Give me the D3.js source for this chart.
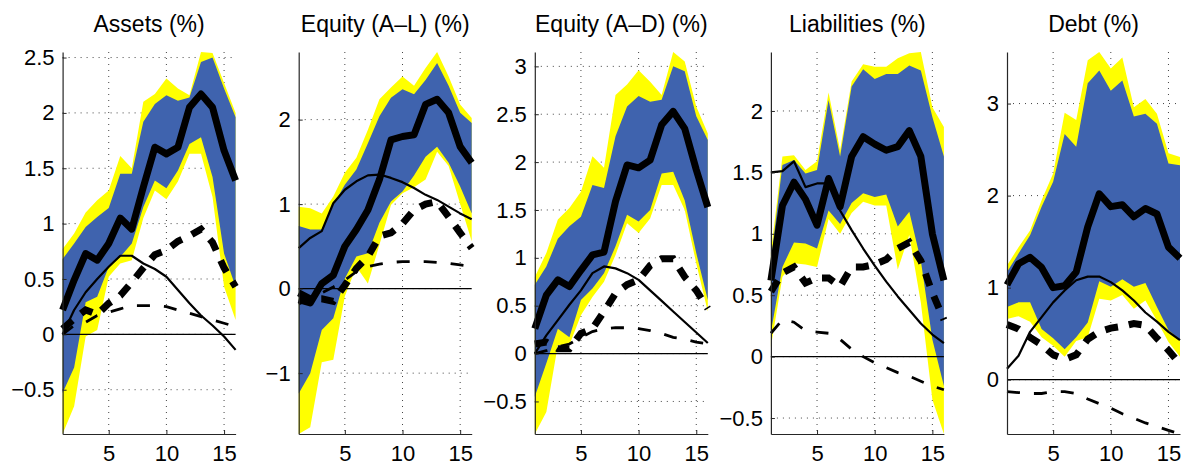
<!DOCTYPE html>
<html>
<head>
<meta charset="utf-8">
<script src="https://cdn.jsdelivr.net/npm/d3@7"></script>
<style>
  html, body { margin: 0; padding: 0; background: #fff; }
  svg { display: block; font-family: "Liberation Sans", Arial, Helvetica, sans-serif; }
</style>
</head>
<body>
<svg id="chart" width="1183" height="466"></svg>
<script>
// Impulse responses over horizons 1..16: 68% (inner) and 90% (outer) bands,
// median response and three model-implied responses.
const horizons = [1, 2, 3, 4, 5, 6, 7, 8, 9, 10, 11, 12, 13, 14, 15, 16];
const horizonTicks = [5, 10, 15];
const panelTitles = ["Assets (%)", "Equity (A\u2013L) (%)", "Equity (A\u2013D) (%)", "Liabilities (%)", "Debt (%)"];

// Assets
const assetsOuterHi = [0.77, 0.91, 1.10, 1.21, 1.30, 1.61, 1.50, 2.10, 2.17, 2.31, 2.22, 2.16, 2.55, 2.54, 2.27, 2.00];
const assetsInnerHi = [0.68, 0.82, 0.97, 1.06, 1.14, 1.45, 1.45, 1.92, 2.08, 2.16, 2.11, 2.14, 2.46, 2.50, 2.22, 1.96];
const assetsInnerLo = [-0.53, -0.30, 0.29, 0.34, 0.61, 0.70, 0.82, 1.15, 1.39, 1.32, 1.48, 1.72, 1.78, 1.42, 0.73, 0.43];
const assetsOuterLo = [-0.90, -0.65, -0.02, 0.04, 0.52, 0.64, 0.67, 1.05, 1.30, 1.22, 1.38, 1.63, 1.63, 1.24, 0.43, 0.13];
const assetsMedian  = [0.22, 0.49, 0.73, 0.67, 0.82, 1.05, 0.95, 1.33, 1.69, 1.63, 1.69, 2.05, 2.17, 2.05, 1.66, 1.39];
const assetsModelA  = [0.05, 0.14, 0.22, 0.18, 0.28, 0.35, 0.47, 0.60, 0.72, 0.76, 0.84, 0.89, 0.95, 0.83, 0.60, 0.43];
const assetsModelB  = [0.00, 0.22, 0.38, 0.50, 0.61, 0.71, 0.71, 0.64, 0.59, 0.52, 0.40, 0.28, 0.17, 0.08, -0.02, -0.14];
const assetsModelC  = [0.00, 0.08, 0.11, 0.17, 0.20, 0.23, 0.26, 0.26, 0.26, 0.25, 0.22, 0.19, 0.16, 0.13, 0.10, 0.07];
const assetsTicks   = [-0.5, 0, 0.5, 1, 1.5, 2, 2.5];

// Equity (assets minus liabilities)
const equityALOuterHi = [0.97, 0.95, 0.89, 1.09, 1.37, 1.55, 1.88, 2.24, 2.38, 2.51, 2.40, 2.61, 2.80, 2.51, 2.18, 2.02];
const equityALInnerHi = [0.74, 0.70, 0.70, 0.99, 1.23, 1.41, 1.72, 2.04, 2.26, 2.36, 2.30, 2.47, 2.67, 2.40, 2.08, 1.96];
const equityALInnerLo = [-1.24, -1.00, -0.49, -0.35, 0.12, 0.38, 0.42, 0.78, 1.03, 1.15, 1.34, 1.56, 1.68, 1.49, 1.21, 0.89];
const equityALOuterLo = [-1.72, -1.64, -0.87, -0.84, -0.09, 0.26, 0.06, 0.52, 0.99, 1.13, 1.20, 1.29, 1.62, 1.45, 1.00, 0.56];
const equityALMedian  = [-0.13, -0.17, 0.06, 0.16, 0.50, 0.70, 0.93, 1.29, 1.76, 1.80, 1.82, 2.18, 2.24, 2.08, 1.68, 1.49];
const equityALModelA  = [-0.05, -0.12, -0.12, -0.15, 0.04, 0.24, 0.38, 0.62, 0.66, 0.77, 0.93, 1.00, 1.03, 0.85, 0.66, 0.48];
const equityALModelB  = [0.48, 0.60, 0.68, 1.01, 1.17, 1.27, 1.34, 1.35, 1.31, 1.26, 1.19, 1.11, 1.05, 0.97, 0.89, 0.82];
const equityALModelC  = [-0.18, -0.12, -0.05, 0.02, 0.10, 0.20, 0.26, 0.29, 0.31, 0.32, 0.32, 0.32, 0.31, 0.30, 0.28, 0.26];
const equityALTicks   = [-1, 0, 1, 2];

// Equity (assets minus debt)
const equityADOuterHi = [0.80, 1.05, 1.40, 1.52, 1.69, 2.06, 1.94, 2.70, 2.81, 2.96, 2.84, 2.70, 3.15, 3.05, 2.58, 2.30];
const equityADInnerHi = [0.72, 0.91, 1.20, 1.33, 1.43, 1.76, 1.73, 2.27, 2.58, 2.69, 2.63, 2.65, 3.00, 2.95, 2.48, 2.23];
const equityADInnerLo = [-0.45, -0.10, 0.26, 0.17, 0.56, 0.68, 0.84, 1.12, 1.45, 1.38, 1.50, 1.88, 1.90, 1.60, 1.05, 0.56];
const equityADOuterLo = [-0.84, -0.61, 0.09, 0.09, 0.40, 0.59, 0.75, 1.03, 1.36, 1.26, 1.41, 1.76, 1.76, 1.50, 0.94, 0.44];
const equityADMedian  = [0.26, 0.61, 0.77, 0.70, 0.87, 1.03, 1.06, 1.59, 1.97, 1.94, 2.02, 2.39, 2.53, 2.35, 1.92, 1.53];
const equityADModelA  = [0.10, 0.12, 0.05, 0.05, 0.21, 0.26, 0.44, 0.63, 0.72, 0.77, 0.92, 0.99, 0.99, 0.80, 0.66, 0.47];
const equityADModelB  = [0.00, 0.19, 0.35, 0.51, 0.66, 0.84, 0.91, 0.89, 0.84, 0.77, 0.66, 0.55, 0.44, 0.33, 0.22, 0.11];
const equityADModelC  = [0.00, 0.03, 0.07, 0.10, 0.17, 0.23, 0.26, 0.27, 0.27, 0.26, 0.24, 0.21, 0.17, 0.15, 0.12, 0.10];
const equityADTicks   = [-0.5, 0, 0.5, 1, 1.5, 2, 2.5, 3];

// Liabilities
const liabilitiesOuterHi = [0.85, 1.63, 1.64, 1.52, 1.59, 2.15, 1.68, 2.24, 2.38, 2.36, 2.36, 2.43, 2.47, 2.48, 2.03, 1.87];
const liabilitiesInnerHi = [0.78, 1.56, 1.60, 1.49, 1.52, 2.09, 1.63, 2.20, 2.34, 2.26, 2.30, 2.30, 2.37, 2.33, 1.95, 1.63];
const liabilitiesInnerLo = [0.20, 0.73, 0.93, 0.92, 0.88, 1.19, 1.08, 1.25, 1.33, 1.30, 1.32, 1.06, 1.18, 0.78, 0.14, -0.24];
const liabilitiesOuterLo = [0.08, 0.65, 0.76, 0.75, 0.73, 1.12, 1.00, 1.17, 1.26, 1.23, 1.23, 0.71, 0.99, 0.44, -0.35, -0.63];
const liabilitiesMedian  = [0.62, 1.23, 1.42, 1.28, 1.07, 1.45, 1.22, 1.63, 1.79, 1.73, 1.68, 1.71, 1.84, 1.63, 1.00, 0.62];
const liabilitiesModelA  = [0.53, 0.68, 0.73, 0.60, 0.64, 0.64, 0.57, 0.73, 0.73, 0.75, 0.79, 0.88, 0.93, 0.78, 0.52, 0.30];
const liabilitiesModelB  = [1.50, 1.51, 1.59, 1.38, 1.41, 1.41, 1.19, 1.03, 0.88, 0.74, 0.61, 0.49, 0.38, 0.27, 0.18, 0.11];
const liabilitiesModelC  = [0.19, 0.30, 0.28, 0.21, 0.20, 0.19, 0.14, 0.06, 0.00, -0.05, -0.09, -0.13, -0.16, -0.20, -0.24, -0.27];
const liabilitiesTicks   = [-0.5, 0, 0.5, 1, 1.5, 2];

// Debt
const debtOuterHi = [1.24, 1.44, 1.62, 1.95, 2.24, 2.90, 2.82, 3.47, 3.56, 3.38, 3.50, 2.96, 3.05, 2.89, 2.46, 2.42];
const debtInnerHi = [1.17, 1.37, 1.57, 1.88, 2.15, 2.67, 2.53, 3.22, 3.36, 3.14, 3.25, 2.86, 2.89, 2.78, 2.35, 2.33];
const debtInnerLo = [0.79, 0.84, 0.84, 0.55, 0.45, 0.33, 0.46, 0.62, 1.07, 1.01, 1.09, 1.01, 1.05, 0.79, 0.54, 0.43];
const debtOuterLo = [0.66, 0.69, 0.63, 0.46, 0.37, 0.25, 0.42, 0.46, 0.88, 0.86, 0.92, 0.77, 0.86, 0.64, 0.41, 0.25];
const debtMedian  = [1.03, 1.26, 1.33, 1.22, 1.00, 1.02, 1.17, 1.66, 2.02, 1.88, 1.90, 1.77, 1.86, 1.80, 1.44, 1.32];
const debtModelA  = [0.60, 0.55, 0.46, 0.38, 0.27, 0.22, 0.27, 0.44, 0.52, 0.56, 0.58, 0.61, 0.59, 0.45, 0.32, 0.17];
const debtModelB  = [0.12, 0.26, 0.52, 0.68, 0.84, 0.97, 1.08, 1.12, 1.12, 1.06, 0.97, 0.86, 0.73, 0.63, 0.52, 0.43];
const debtModelC  = [-0.13, -0.14, -0.15, -0.15, -0.13, -0.13, -0.15, -0.21, -0.26, -0.31, -0.37, -0.42, -0.47, -0.51, -0.55, -0.59];
const debtTicks   = [0, 1, 2, 3];

const panels = [
  { title: panelTitles[0], outerHi: assetsOuterHi, innerHi: assetsInnerHi, innerLo: assetsInnerLo, outerLo: assetsOuterLo,
    median: assetsMedian, modelA: assetsModelA, modelB: assetsModelB, modelC: assetsModelC, ticks: assetsTicks },
  { title: panelTitles[1], outerHi: equityALOuterHi, innerHi: equityALInnerHi, innerLo: equityALInnerLo, outerLo: equityALOuterLo,
    median: equityALMedian, modelA: equityALModelA, modelB: equityALModelB, modelC: equityALModelC, ticks: equityALTicks },
  { title: panelTitles[2], outerHi: equityADOuterHi, innerHi: equityADInnerHi, innerLo: equityADInnerLo, outerLo: equityADOuterLo,
    median: equityADMedian, modelA: equityADModelA, modelB: equityADModelB, modelC: equityADModelC, ticks: equityADTicks },
  { title: panelTitles[3], outerHi: liabilitiesOuterHi, innerHi: liabilitiesInnerHi, innerLo: liabilitiesInnerLo, outerLo: liabilitiesOuterLo,
    median: liabilitiesMedian, modelA: liabilitiesModelA, modelB: liabilitiesModelB, modelC: liabilitiesModelC, ticks: liabilitiesTicks },
  { title: panelTitles[4], outerHi: debtOuterHi, innerHi: debtInnerHi, innerLo: debtInnerLo, outerLo: debtOuterLo,
    median: debtMedian, modelA: debtModelA, modelB: debtModelB, modelC: debtModelC, ticks: debtTicks }
];

// Layout of the row of small multiples
const plotTop = 52, plotBottom = 434;
const firstLeft = 62.6, panelStep = 236.1, panelWidth = 173;
const blue = "#3f63ae", yellow = "#ffff00", axisColor = "#262626";
const fontSize = 22, titleSize = 23;

const svg = d3.select("#chart");
const tickFormat = d3.format("~g");

panels.forEach((p, i) => {
  const left = firstLeft + i * panelStep;
  const x = d3.scaleLinear().domain([1, 16]).range([left, left + panelWidth]);
  // tight y-limits around everything plotted in the panel
  const allValues = [].concat(p.outerHi, p.outerLo, p.innerHi, p.innerLo, p.median, p.modelA, p.modelB, p.modelC);
  const y = d3.scaleLinear().domain(d3.extent(allValues)).range([plotBottom, plotTop]);

  const g = svg.append("g").attr("class", "panel");

  // dotted grid
  g.append("g").selectAll("line").data(horizonTicks).join("line")
    .attr("x1", d => x(d)).attr("x2", d => x(d))
    .attr("y1", plotTop).attr("y2", plotBottom)
    .attr("stroke", "#444").attr("stroke-width", 1).attr("stroke-dasharray", "1,5");
  g.append("g").selectAll("line").data(p.ticks).join("line")
    .attr("x1", x(1)).attr("x2", x(16))
    .attr("y1", d => y(d)).attr("y2", d => y(d))
    .attr("stroke", "#444").attr("stroke-width", 1).attr("stroke-dasharray", "1,5");

  // confidence bands
  const band = (lo, hi) => d3.area()
    .x((d, k) => x(horizons[k]))
    .y0((d, k) => y(lo[k]))
    .y1((d, k) => y(hi[k]));
  g.append("path").datum(horizons).attr("d", band(p.outerLo, p.outerHi)).attr("fill", yellow);
  g.append("path").datum(horizons).attr("d", band(p.innerLo, p.innerHi)).attr("fill", blue);

  // zero line
  g.append("line")
    .attr("x1", x(1)).attr("x2", x(16))
    .attr("y1", y(0)).attr("y2", y(0))
    .attr("stroke", "#000").attr("stroke-width", 1.2);

  const line = vals => d3.line().x((d, k) => x(horizons[k])).y((d, k) => y(vals[k]))(horizons);

  // model responses
  g.append("path").attr("d", line(p.modelC)).attr("fill", "none")
    .attr("stroke", "#000").attr("stroke-width", 2.8).attr("stroke-dasharray", "13,14");
  g.append("path").attr("d", line(p.modelB)).attr("fill", "none")
    .attr("stroke", "#000").attr("stroke-width", 2.2).attr("stroke-linejoin", "round");
  g.append("path").attr("d", line(p.modelA)).attr("fill", "none")
    .attr("stroke", "#000").attr("stroke-width", 7).attr("stroke-dasharray", "13,11");

  // median response
  g.append("path").attr("d", line(p.median)).attr("fill", "none")
    .attr("stroke", "#000").attr("stroke-width", 7).attr("stroke-linejoin", "round");

  // axes with inward ticks
  const yAxis = d3.axisLeft(y).tickValues(p.ticks).tickFormat(tickFormat)
    .tickSizeInner(-4).tickSizeOuter(0).tickPadding(8);
  const xAxis = d3.axisBottom(x).tickValues(horizonTicks).tickFormat(tickFormat)
    .tickSizeInner(-4).tickSizeOuter(0).tickPadding(11);

  const ya = g.append("g").attr("transform", `translate(${x(1)},0)`).call(yAxis);
  const xa = g.append("g").attr("transform", `translate(0,${plotBottom})`).call(xAxis);
  [ya, xa].forEach(a => {
    a.attr("font-family", null).attr("font-size", null);
    a.select(".domain").attr("stroke", axisColor).attr("stroke-width", 1.2);
    a.selectAll(".tick line").attr("stroke", axisColor);
    a.selectAll(".tick text").attr("fill", "#000").style("font-size", fontSize + "px");
  });

  // title
  g.append("text")
    .attr("x", (x(1) + x(16)) / 2).attr("y", 32)
    .attr("text-anchor", "middle")
    .style("font-size", titleSize + "px")
    .text(p.title);
});
</script>
</body>
</html>
